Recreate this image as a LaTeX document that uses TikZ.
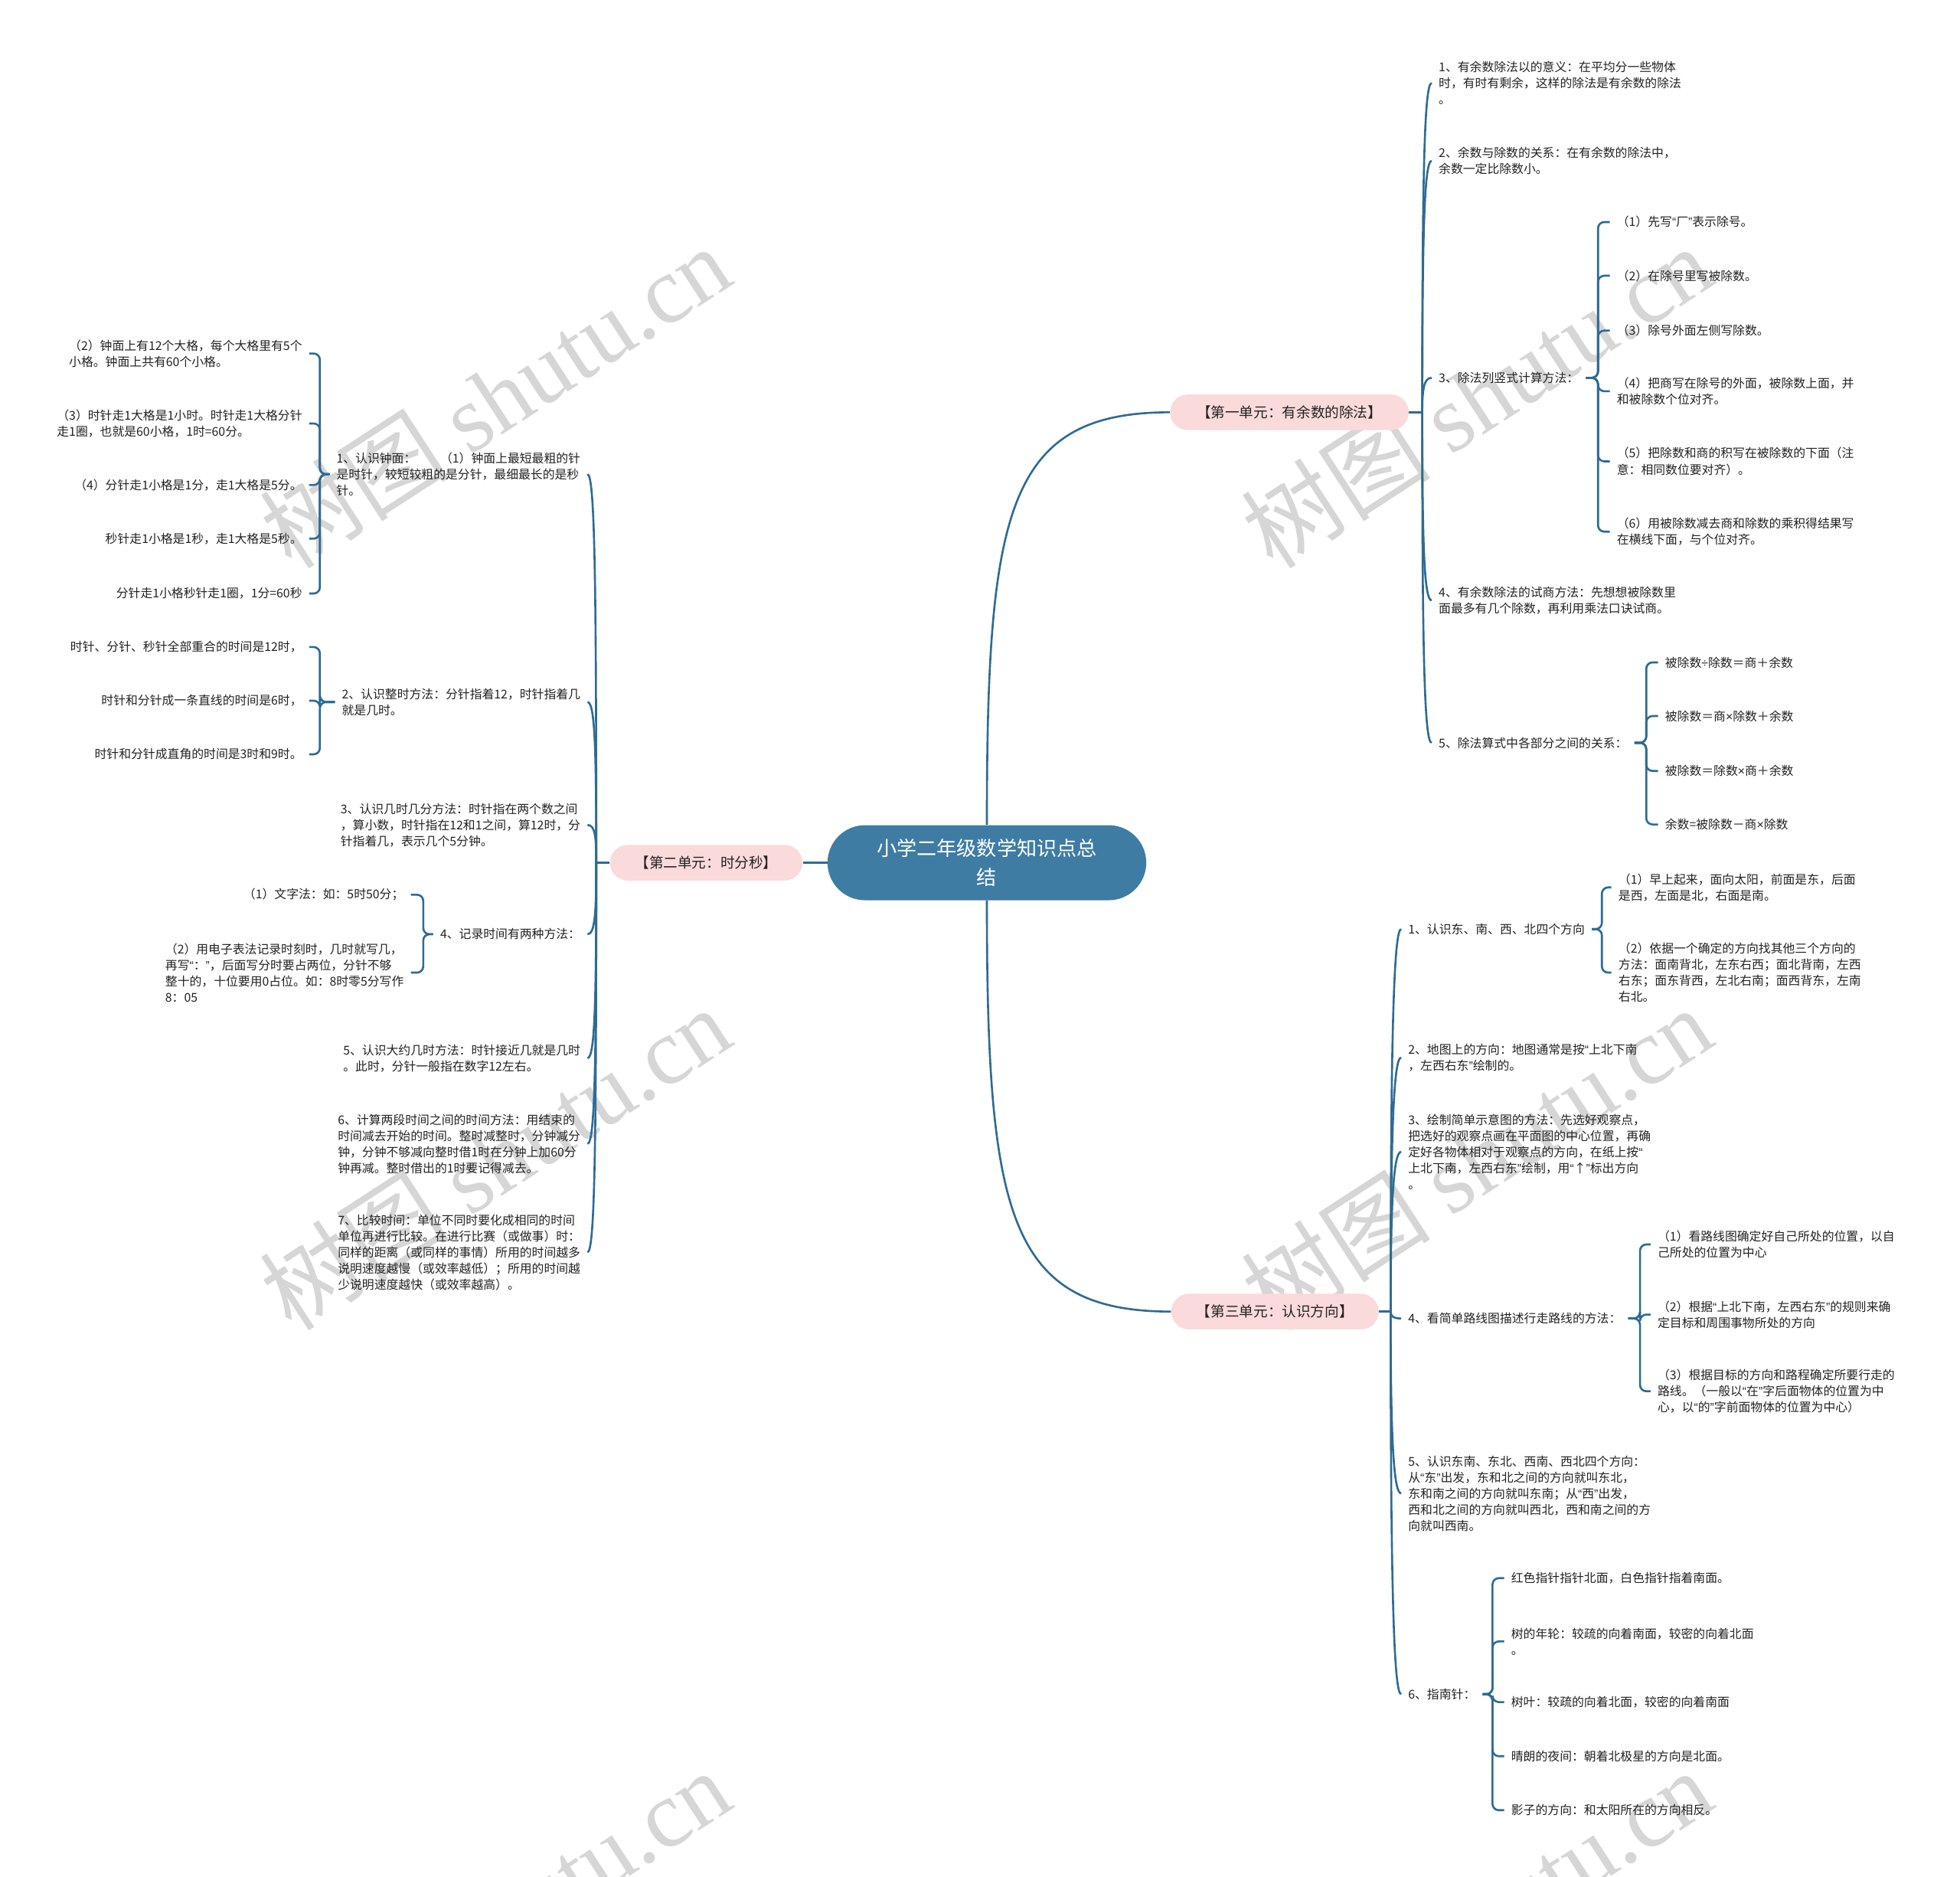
\documentclass[tikz,border=0pt]{standalone}
\usepackage{fontspec}
\setmainfont{Noto Sans CJK SC}
\newfontfamily\wmlat{Liberation Serif}
\newfontfamily\qf{Liberation Sans}
\newcommand\mmlq{{\qf“}}
\newcommand\mmrq{{\qf”}}
\newcommand\mmx{{\qf×}}
\newcommand\mmdiv{{\qf÷}}
\usetikzlibrary{calc}
\definecolor{lnc}{HTML}{2E6B93}
\definecolor{ctr}{HTML}{3E7CA4}
\definecolor{pnk}{HTML}{FADADA}
\definecolor{txt}{HTML}{222222}
\definecolor{wmc}{HTML}{D6D6D6}
\newcommand\mmbr[3]{\draw[conn,rounded corners=5] (#1.east) -- (#2 |- #1.east) -- (#2 |- #3.west) -- (#3.west);}
\newcommand\mmbl[3]{\draw[conn,rounded corners=5] (#1.west) -- (#2 |- #1.west) -- (#2 |- #3.east) -- (#3.east);}
\tikzset{
 conn/.style={draw=lnc, line width=1.6},
 lf/.style={inner sep=0, outer xsep=5.7, outer ysep=0, align=left, text=txt, font=\fontsize{9.7}{12.9}\selectfont},
 rl/.style={lf, anchor=west},
 ll/.style={lf, anchor=east},
 sec/.style={fill=pnk, rounded corners=14.25, minimum height=28.5, inner sep=0, text=txt, font=\fontsize{11.4}{14}\selectfont},
 ctrn/.style={fill=ctr, rounded corners=30, minimum width=255, minimum height=60, inner sep=0, text=white, align=center, font=\fontsize{16}{23}\selectfont},
 wm/.style={text=wmc, rotate=33, inner sep=0, font=\fontsize{76}{80}\selectfont},
 rsp/.style={to path={.. controls ($(\tikztostart)!0.7!(\tikztostart|-\tikztotarget)$) and ($(\tikztotarget)+(-6,0)$) .. (\tikztotarget)}},
 lsp/.style={to path={.. controls ($(\tikztostart)!0.7!(\tikztostart|-\tikztotarget)$) and ($(\tikztotarget)+(6,0)$) .. (\tikztotarget)}},
}
\begin{document}
\begin{tikzpicture}[x=1pt,y=-1pt]
\clip (0,0) rectangle (1568,1501);
\fill[white] (0,0) rectangle (1568,1501);
% watermarks
\node[wm] (w1) at (396,317) {树图 {\wmlat shutu.cn}};
\node[wm] (w2) at (1181,317) {树图 {\wmlat shutu.cn}};
\node[wm] (w3) at (396,926) {树图 {\wmlat shutu.cn}};
\node[wm] (w4) at (1181,926) {树图 {\wmlat shutu.cn}};
\node[wm] (w5) at (396,1536) {树图 {\wmlat shutu.cn}};
\node[wm] (w6) at (1181,1536) {树图 {\wmlat shutu.cn}};

% central and section nodes
\node[ctrn] (c) at (789.5,690) {小学二年级数学知识点总\\结};
\node[sec, minimum width=191] (s1) at (1031.5,329.75) {【第一单元：有余数的除法】};
\node[sec, minimum width=154] (s2) at (565,690) {【第二单元：时分秒】};
\node[sec, minimum width=166] (s3) at (1020,1049) {【第三单元：认识方向】};

\coordinate (J1) at (1137.8,329.75);
\coordinate (J2) at (477,690);
\coordinate (J3) at (1112.5,1049);
\coordinate (B13) at (1278.4,0);
\coordinate (B15) at (1317,0);
\coordinate (Bd1) at (1281.5,0);
\coordinate (Bd4) at (1312,0);
\coordinate (Bd6) at (1194,0);
\coordinate (Be1) at (255.9,0);
\coordinate (Be2) at (255.9,0);
\coordinate (Be4) at (338.6,0);

% section 1
\node[rl] (c11) at (1145.3,66.4) {1、有余数除法以的意义：在平均分一些物体\\时，有时有剩余，这样的除法是有余数的除法\\。};
\node[rl] (c12) at (1145.3,128.6) {2、余数与除数的关系：在有余数的除法中，\\余数一定比除数小。};
\node[rl] (c13) at (1145.3,302.2) {3、除法列竖式计算方法：};
\node[rl] (c14) at (1145.3,480.2) {4、有余数除法的试商方法：先想想被除数里\\面最多有几个除数，再利用乘法口诀试商。};
\node[rl] (c15) at (1145.3,594.1) {5、除法算式中各部分之间的关系：};
\node[rl] (c131) at (1287.8,177.6) {（1）先写\mmlq 厂\mmrq 表示除号。};
\node[rl] (c132) at (1287.8,220.5) {（2）在除号里写被除数。};
\node[rl] (c133) at (1287.8,264.4) {（3）除号外面左侧写除数。};
\node[rl] (c134) at (1287.8,312.9) {（4）把商写在除号的外面，被除数上面，并\\和被除数个位对齐。};
\node[rl] (c135) at (1287.8,369) {（5）把除数和商的积写在被除数的下面（注\\意：相同数位要对齐）。};
\node[rl] (c136) at (1287.8,425.2) {（6）用被除数减去商和除数的乘积得结果写\\在横线下面，与个位对齐。};
\node[rl] (c151) at (1326.4,529.8) {被除数\mmdiv 除数＝商＋余数};
\node[rl] (c152) at (1326.4,572.7) {被除数＝商\mmx 除数＋余数};
\node[rl] (c153) at (1326.4,616.6) {被除数＝除数\mmx 商＋余数};
\node[rl] (c154) at (1326.4,659.4) {余数=被除数－商\mmx 除数};

% section 3
\node[rl] (d1) at (1120.9,743.1) {1、认识东、南、西、北四个方向};
\node[rl] (d2) at (1120.9,845.8) {2、地图上的方向：地图通常是按\mmlq 上北下南\\，左西右东\mmrq 绘制的。};
\node[rl] (d3) at (1120.9,921.2) {3、绘制简单示意图的方法：先选好观察点，\\把选好的观察点画在平面图的中心位置，再确\\定好各物体相对于观察点的方向，在纸上按\mmlq\\上北下南，左西右东\mmrq 绘制，用\mmlq ↑\mmrq 标出方向\\。};
\node[rl] (d4) at (1120.9,1054.5) {4、看简单路线图描述行走路线的方法：};
\node[rl] (d5) at (1120.9,1194.4) {5、认识东南、东北、西南、西北四个方向：\\从\mmlq 东\mmrq 出发，东和北之间的方向就叫东北，\\东和南之间的方向就叫东南；从\mmlq 西\mmrq 出发，\\西和北之间的方向就叫西北，西和南之间的方\\向就叫西南。};
\node[rl] (d6) at (1120.9,1355) {6、指南针：};
\node[rl] (d11) at (1289.1,709.75) {（1）早上起来，面向太阳，前面是东，后面\\是西，左面是北，右面是南。};
\node[rl] (d12) at (1289.1,777.9) {（2）依据一个确定的方向找其他三个方向的\\方法：面南背北，左东右西；面北背南，左西\\右东；面东背西，左北右南；面西背东，左南\\右北。};
\node[rl] (d41) at (1320.4,995.3) {（1）看路线图确定好自己所处的位置，以自\\己所处的位置为中心};
\node[rl] (d42) at (1320.4,1051.4) {（2）根据\mmlq 上北下南，左西右东\mmrq 的规则来确\\定目标和周围事物所处的方向};
\node[rl] (d43) at (1320.4,1112.7) {（3）根据目标的方向和路程确定所要行走的\\路线。（一般以\mmlq 在\mmrq 字后面物体的位置为中\\心，以\mmlq 的\mmrq 字前面物体的位置为中心）};
\node[rl] (d61) at (1203.3,1262.2) {红色指针指针北面，白色指针指着南面。};
\node[rl] (d62) at (1203.3,1312.8) {树的年轮：较疏的向着南面，较密的向着北面\\。};
\node[rl] (d63) at (1203.3,1361.3) {树叶：较疏的向着北面，较密的向着南面};
\node[rl] (d64) at (1203.3,1404.6) {晴朗的夜间：朝着北极星的方向是北面。};
\node[rl] (d65) at (1203.3,1447.8) {影子的方向：和太阳所在的方向相反。};

% section 2
\node[ll] (e1) at (470,379.3) {1、认识钟面：\hspace*{2em}（1）钟面上最短最粗的针\\是时针，较短较粗的是分针，最细最长的是秒\\针。};
\node[ll] (e2) at (470,561.5) {2、认识整时方法：分针指着12，时针指着几\\就是几时。};
\node[ll] (e3) at (470,659.8) {3、认识几时几分方法：时针指在两个数之间\\，算小数，时针指在12和1之间，算12时，分\\针指着几，表示几个5分钟。};
\node[ll] (e4) at (470,747.2) {4、记录时间有两种方法：};
\node[ll] (e5) at (470,846.3) {5、认识大约几时方法：时针接近几就是几时\\。此时，分针一般指在数字12左右。};
\node[ll] (e6) at (470,914.8) {6、计算两段时间之间的时间方法：用结束的\\时间减去开始的时间。整时减整时，分钟减分\\钟，分钟不够减向整时借1时在分钟上加60分\\钟再减。整时借出的1时要记得减去。};
\node[ll] (e7) at (470,1001.6) {7、比较时间：单位不同时要化成相同的时间\\单位再进行比较。在进行比赛（或做事）时：\\同样的距离（或同样的事情）所用的时间越多\\说明速度越慢（或效率越低）；所用的时间越\\少说明速度越快（或效率越高）。};
\node[ll] (e11) at (247.4,282.75) {（2）钟面上有12个大格，每个大格里有5个\\小格。钟面上共有60个小格。};
\node[ll] (e12) at (247.4,338.7) {（3）时针走1大格是1小时。时针走1大格分针\\走1圈，也就是60小格，1时=60分。};
\node[ll] (e13) at (247.4,387.9) {（4）分针走1小格是1分，走1大格是5分。};
\node[ll] (e14) at (247.4,430.8) {秒针走1小格是1秒，走1大格是5秒。};
\node[ll] (e15) at (247.4,474.7) {分针走1小格秒针走1圈，1分=60秒};
\node[ll] (e21) at (247.4,517.5) {时针、分针、秒针全部重合的时间是12时，};
\node[ll] (e22) at (247.4,560.4) {时针和分针成一条直线的时间是6时，};
\node[ll] (e23) at (247.4,603.3) {时针和分针成直角的时间是3时和9时。};
\node[ll] (e41) at (328.7,715.6) {（1）文字法：如：5时50分；};
\node[ll] (e42) at (328.7,777.9) {（2）用电子表法记录时刻时，几时就写几，\\再写\mmlq ：\mmrq ，后面写分时要占两位，分针不够\\整十的，十位要用0占位。如：8时零5分写作\\8：05};

% main connectors
\draw[conn] (c.west) -- (s2.east);
\draw[conn] (c.north) .. controls +(0,-250) and +(-131,0) .. (s1.west);
\draw[conn] (c.south) .. controls +(0,250) and +(-131,0) .. (s3.west);

\draw[conn] (s1.east) -- (J1);
\foreach \n in {c11,c12,c13,c14,c15} \draw[conn] (J1) to[rsp] (\n.west);
\draw[conn] (s3.east) -- (J3);
\foreach \n in {d1,d2,d3,d4,d5,d6} \draw[conn] (J3) to[rsp] (\n.west);
\draw[conn] (s2.west) -- (J2);
\foreach \n in {e1,e2,e3,e4,e5,e6,e7} \draw[conn] (J2) to[lsp] (\n.east);

% brackets
\foreach \n in {c131,c132,c133,c134,c135,c136} {\mmbr{c13}{B13}{\n}}
\foreach \n in {c151,c152,c153,c154} {\mmbr{c15}{B15}{\n}}
\foreach \n in {d11,d12} {\mmbr{d1}{Bd1}{\n}}
\foreach \n in {d41,d42,d43} {\mmbr{d4}{Bd4}{\n}}
\foreach \n in {d61,d62,d63,d64,d65} {\mmbr{d6}{Bd6}{\n}}
\foreach \n in {e11,e12,e13,e14,e15} {\mmbl{e1}{Be1}{\n}}
\foreach \n in {e21,e22,e23} {\mmbl{e2}{Be2}{\n}}
\foreach \n in {e41,e42} {\mmbl{e4}{Be4}{\n}}
\end{tikzpicture}
\end{document}
